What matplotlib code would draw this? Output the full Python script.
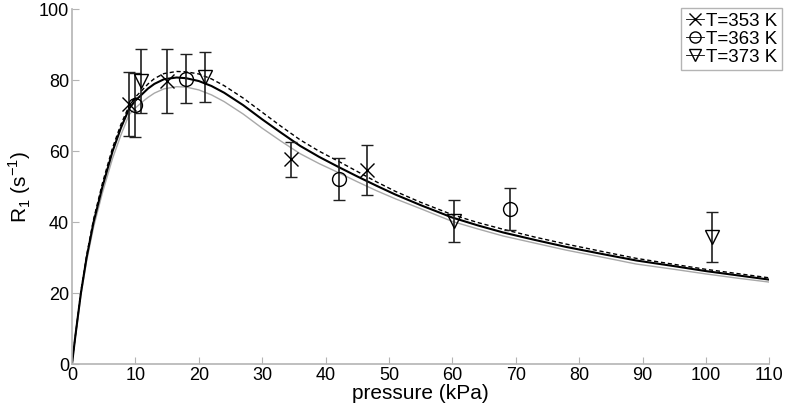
import matplotlib
matplotlib.use('Agg')
import matplotlib.pyplot as plt
from matplotlib.lines import Line2D

plt.rcParams['font.family'] = ['Liberation Sans', 'DejaVu Sans']
plt.rcParams['mathtext.fontset'] = 'custom'
plt.rcParams['mathtext.rm'] = 'Liberation Sans'

# measured points (pressure kPa, R1, error)
p353 = [9.0, 15.0, 34.5, 46.6]
r353 = [73.3, 79.8, 57.7, 54.7]
e353 = [9.0, 9.0, 5.0, 7.0]

p363 = [10.0, 18.0, 42.1, 69.1]
r363 = [73.0, 80.5, 52.2, 43.7]
e363 = [9.0, 7.0, 6.0, 6.0]

p373 = [10.9, 21.0, 60.3, 101.0]
r373 = [79.8, 81.0, 40.3, 35.8]
e373 = [9.0, 7.0, 6.0, 7.0]

# model curves
p_fit = [0, 0.5, 1.4, 2.3, 3.4, 4.8, 6.4, 7.7, 9, 10, 11, 12, 13, 14.5, 16.5,
         18, 20, 22, 24, 27, 30, 33, 36, 39, 42, 45, 48, 51, 55, 60, 64, 68,
         73, 78, 84, 89, 95, 100, 105, 110]
fit_solid = [0, 7.5, 20, 30, 40, 50, 60, 66.5, 72, 74.3, 76, 77.7, 79, 80.3,
             80.8, 80.6, 79.8, 78.4, 76.5, 73, 69, 65.2, 61.5, 58.4, 55.6, 52.9,
             50.3, 47.8, 44.8, 41.3, 39.1, 37.1, 35.0, 33.0, 30.9, 29.2, 27.6,
             26.2, 25.0, 23.8]
fit_dash = [0, 7.6, 20.4, 30.6, 40.8, 51, 61, 67.5, 72.8, 75.3, 77.1, 79, 80.5,
            81.9, 82.5, 82.4, 81.8, 80.4, 78.5, 75, 71, 67, 63.2, 60, 57.2, 54.3,
            51.4, 48.7, 45.6, 42.1, 39.9, 38.0, 35.8, 33.8, 31.6, 29.8, 28.1,
            26.7, 25.5, 24.3]
fit_gray = [0, 7.3, 19.3, 29, 38.6, 48.3, 58, 64.5, 70.3, 72.2, 73.8, 75.2,
            76.4, 77.6, 78.2, 78.1, 77.3, 75.9, 74, 70.5, 66.5, 62.8, 59.3, 56.5,
            54.0, 51.4, 48.9, 46.6, 43.8, 40.2, 38.1, 36.1, 34.1, 32.1, 30.0,
            28.2, 26.7, 25.4, 24.2, 23.1]

fig = plt.figure(figsize=(7.87, 4.09), dpi=100)
ax = fig.add_axes([0.0915, 0.11, 0.886, 0.867])

ax.plot(p_fit, fit_gray, color='#a8a8a8', lw=1.0)
ax.plot(p_fit, fit_solid, color='black', lw=1.5)
ax.plot(p_fit, fit_dash, color='black', lw=1.0, ls=(0, (3, 2)))

mk = dict(color='black', mfc='none', mec='black', ms=10, mew=1.0,
          ls='none', ecolor='#202020', elinewidth=1.2, capsize=4.5, capthick=1.2)
ax.errorbar(p353, r353, yerr=e353, marker='x', **mk)
ax.errorbar(p363, r363, yerr=e363, marker='o', **mk)
ax.errorbar(p373, r373, yerr=e373, marker='v', **mk)

ax.set_xlim(0, 110)
ax.set_ylim(0, 100)
ax.set_xticks(range(0, 111, 10))
ax.set_yticks(range(0, 101, 20))
for s in ['top', 'right']:
    ax.spines[s].set_visible(False)
for s in ['left', 'bottom']:
    ax.spines[s].set_color('#b4b4b4')
    ax.spines[s].set_linewidth(1.2)
ax.tick_params(direction='in', length=5, color='#b4b4b4', labelsize=13,
               labelcolor='black', pad=2)

ax.set_xlabel('pressure (kPa)', fontsize=15, labelpad=0)
ax.set_ylabel(r'R$_\mathregular{1}$ (s$^\mathregular{-1}$)', fontsize=15, labelpad=4)

handles = [Line2D([], [], color='black', lw=0.6, marker='x', ms=8, mfc='none'),
           Line2D([], [], color='black', lw=0.6, marker='o', ms=8, mfc='none'),
           Line2D([], [], color='black', lw=0.6, marker='v', ms=8, mfc='none')]
leg = ax.legend(handles, ['T=353 K', 'T=363 K', 'T=373 K'], loc='upper right',
                bbox_to_anchor=(1.024, 1.015), fontsize=13.5, fancybox=False,
                handlelength=1.0, handletextpad=0.1, borderpad=0.25,
                labelspacing=0.05, borderaxespad=0.2, framealpha=1)
leg.get_frame().set_edgecolor('#b4b4b4')
leg.get_frame().set_linewidth(1.0)

fig.savefig('out.png', dpi=100)
